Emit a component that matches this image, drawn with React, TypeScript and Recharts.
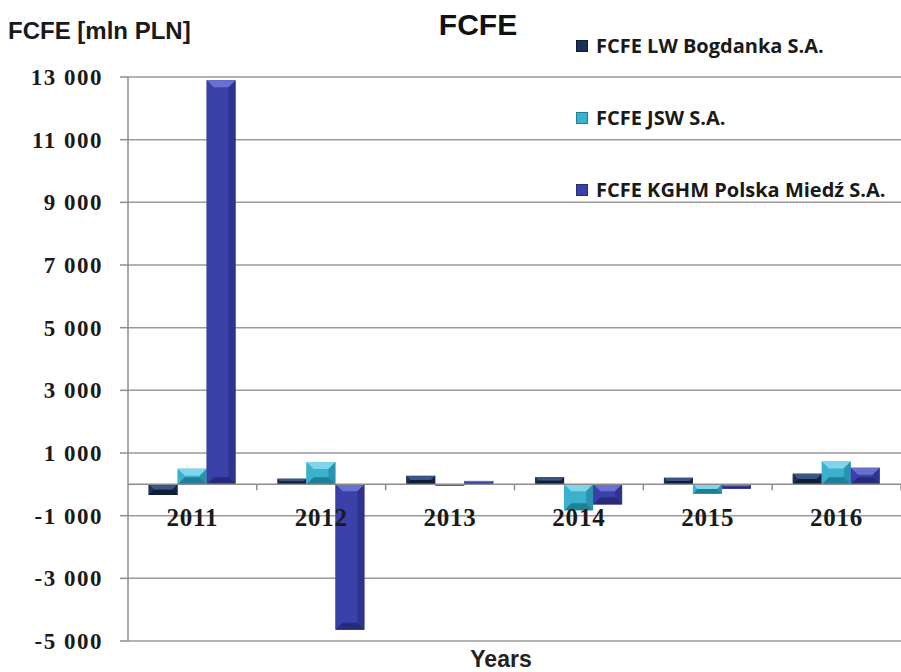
import React from 'react';
import { BarChart, Bar, XAxis, YAxis, CartesianGrid, ReferenceLine } from 'recharts';

const YEARS = ['2011', '2012', '2013', '2014', '2015', '2016'];
const BOGDANKA = [-340, 180, 270, 230, 210, 340];
const JSW = [500, 710, -50, -830, -300, 730];
const KGHM = [12900, -4640, 110, -640, -140, 530];
const Y_TICKS = [-5000, -3000, -1000, 1000, 3000, 5000, 7000, 9000, 11000, 13000];

const SERIES = [
  { key: 'bogdanka', name: 'FCFE LW Bogdanka S.A.', color: '#1c3157', light: '#3b5585', dark: '#0f1d36' },
  { key: 'jsw', name: 'FCFE JSW S.A.', color: '#3bb1cd', light: '#7fd6ea', dark: '#1f7f98' },
  { key: 'kghm', name: 'FCFE KGHM Polska Miedź S.A.', color: '#3a41a8', light: '#6a70cf', dark: '#262b7a' },
];

const data = YEARS.map((year, i) => ({
  year,
  bogdanka: BOGDANKA[i],
  jsw: JSW[i],
  kghm: KGHM[i],
}));

const W = 901;
const H = 672;
const TOP = 77;
const BOTTOM = 31;
const LEFT = 128;
const PLOT_H = H - TOP - BOTTOM;
const PLOT_W = W - LEFT;
const Y_MIN = -5000;
const Y_MAX = 13000;
const ZERO_Y = TOP + (PLOT_H * Y_MAX) / (Y_MAX - Y_MIN);
const BAND = PLOT_W / YEARS.length;

const fmt = (v: number) => {
  const s = Math.abs(v).toString();
  const body = s.length > 3 ? s.slice(0, s.length - 3) + ' ' + s.slice(-3) : s;
  return (v < 0 ? '-' : '') + body;
};

const serif = '"Liberation Serif", "DejaVu Serif", serif';
const sans = '"Liberation Sans", Arial, sans-serif';

// bevelled bar like the excel 3d-ish style
const bevelShape = (s: typeof SERIES[number]) => (props: any) => {
  let { x, y, width, height } = props;
  if (height < 0) {
    y += height;
    height = -height;
  }
  if (!width || !height) return <g />;
  const b = Math.min(7, width / 2, height / 2);
  const x2 = x + width;
  const y2 = y + height;
  return (
    <g>
      <rect x={x} y={y} width={width} height={height} fill={s.color} />
      <polygon points={`${x},${y} ${x2},${y} ${x2 - b},${y + b} ${x + b},${y + b}`} fill={s.light} />
      <polygon points={`${x},${y2} ${x2},${y2} ${x2 - b},${y2 - b} ${x + b},${y2 - b}`} fill={s.dark} />
      <polygon points={`${x},${y} ${x + b},${y + b} ${x + b},${y2 - b} ${x},${y2}`} fill={s.color} opacity={0.85} />
      <polygon points={`${x2},${y} ${x2 - b},${y + b} ${x2 - b},${y2 - b} ${x2},${y2}`} fill={s.dark} opacity={0.6} />
    </g>
  );
};

// year labels sit just under the zero line, with small ticks between categories
const renderYearTick = (props: any) => {
  const { x, payload } = props;
  return (
    <g>
      <line x1={x + BAND / 2} x2={x + BAND / 2} y1={ZERO_Y} y2={ZERO_Y + 6} stroke="#8c8c8c" strokeWidth={1.5} />
      <text x={x} y={ZERO_Y + 42} textAnchor="middle" fontFamily={serif} fontWeight="bold" fontSize={25} letterSpacing={0.8} fill="#1a1a1a">
        {payload.value}
      </text>
    </g>
  );
};

const LegendBox = () => (
  <div style={{ position: 'absolute', left: 576, top: 32, fontFamily: '"Open Sans", Lato, sans-serif', fontWeight: 700, fontSize: 20, color: '#1a1a1a' }}>
    {SERIES.map((s, i) => (
      <div key={s.key} style={{ position: 'absolute', top: i * 72, left: 0, whiteSpace: 'nowrap', display: 'flex', alignItems: 'center' }}>
        <span style={{ display: 'inline-block', width: 10, height: 10, background: s.color, marginRight: 8, border: `1px solid ${s.dark}` }} />
        <span>{s.name}</span>
      </div>
    ))}
  </div>
);

export default function App() {
  return (
    <div style={{ position: 'absolute', left: 0, top: 0, width: W, height: H, background: '#fff', overflow: 'hidden' }}>
      <BarChart
        width={W}
        height={H}
        data={data}
        margin={{ top: TOP, right: 0, bottom: BOTTOM - 1, left: 0 }}
        barCategoryGap="16%"
        barGap={0}
      >
        <CartesianGrid vertical={false} stroke="#9a9a9a" strokeWidth={1.5} />
        <XAxis dataKey="year" height={1} axisLine={false} tickLine={false} tick={renderYearTick} interval={0} />
        <YAxis
          width={LEFT}
          domain={[Y_MIN, Y_MAX]}
          ticks={Y_TICKS}
          tickFormatter={fmt}
          axisLine={{ stroke: '#8c8c8c', strokeWidth: 1.5 }}
          tickLine={{ stroke: '#8c8c8c', strokeWidth: 1.5 }}
          tickSize={8}
          tickMargin={17}
          tick={{ fontFamily: serif, fontWeight: 'bold', fontSize: 23, letterSpacing: 1.5, fill: '#1a1a1a' }}
        />
        <ReferenceLine y={0} stroke="#8c8c8c" strokeWidth={1.5} />
        {SERIES.map((s) => (
          <Bar key={s.key} dataKey={s.key} name={s.name} fill={s.color} isAnimationActive={false} shape={bevelShape(s)} />
        ))}
      </BarChart>
      <div style={{ position: 'absolute', left: 8, top: 17, fontFamily: sans, fontWeight: 700, fontSize: 24, color: '#1a1a1a', whiteSpace: 'nowrap' }}>
        FCFE [mln PLN]
      </div>
      <div style={{ position: 'absolute', left: 478, top: 8, transform: 'translateX(-50%)', fontFamily: sans, fontWeight: 700, fontSize: 30, color: '#111' }}>
        FCFE
      </div>
      <div style={{ position: 'absolute', left: 501, top: 646, transform: 'translateX(-50%)', fontFamily: sans, fontWeight: 700, fontSize: 23, color: '#222' }}>
        Years
      </div>
      <LegendBox />
    </div>
  );
}
